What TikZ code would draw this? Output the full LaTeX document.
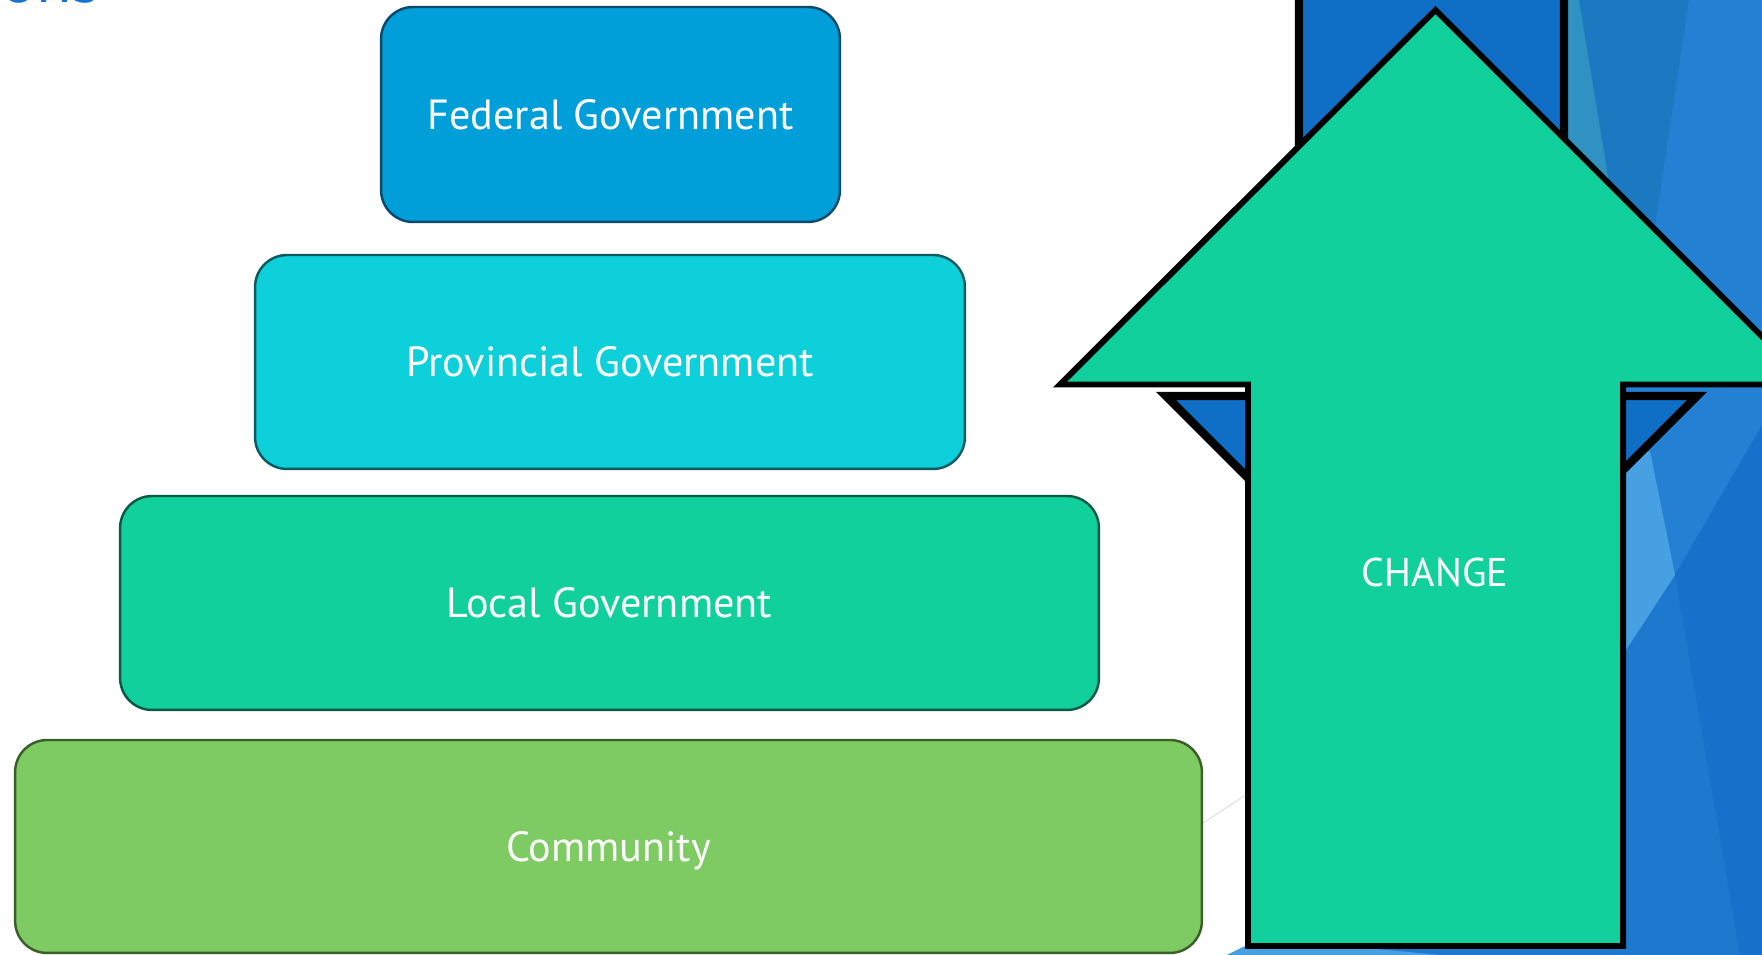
\documentclass[tikz,border=0pt]{standalone}
\usepackage{tikz}
\usepackage{xcolor}
\usepackage{fontspec}
\setmainfont{PT Sans}

\definecolor{federal}{HTML}{009FD9}
\definecolor{federalline}{HTML}{0B4A6A}
\definecolor{provincial}{HTML}{0DD0DB}
\definecolor{provincialline}{HTML}{0D5A60}
\definecolor{localgov}{HTML}{12D09B}
\definecolor{localgovline}{HTML}{0B5A45}
\definecolor{community}{HTML}{7ECB63}
\definecolor{communityline}{HTML}{3B5E2A}
\definecolor{changegreen}{HTML}{11D09B}
\definecolor{downblue}{HTML}{0F6FC6}
\definecolor{titleblue}{HTML}{1A72D0}
\definecolor{facetmid}{HTML}{2380D2}
\definecolor{facetteal}{HTML}{3091C3}
\definecolor{facetdark}{HTML}{1B79C2}
\definecolor{facetlight}{HTML}{46A0E2}
\definecolor{facetdeep}{HTML}{1571C9}
\definecolor{facetlow}{HTML}{1D79CD}

\begin{document}
\begin{tikzpicture}[x=0.02cm, y=-0.02cm,
    govbox/.style={draw=#1line, fill=#1, line width=1.4pt, rounded corners=0.64cm,
        inner sep=0pt, text=white, text height=16.8pt, text depth=0pt,
        font=\fontsize{24}{29}\selectfont},
    bigarrow/.style={draw=black, line join=miter, miter limit=10}] % coordenadas en pixeles
\clip (0,0) rectangle (1762,955);
% fondo con facetas
\fill[facetmid] (1568,0) -- (1762,0) -- (1762,955) -- (1227,955) -- (1262,938) -- cycle;
\fill[facetteal] (1568,0) -- (1579,0) -- (1612,200) -- (1497,200) -- cycle;
\fill[facetdark] (1579,0) -- (1689,0) -- (1650,260) -- (1612,200) -- cycle;
\fill[facetlow] (1600,690) -- (1675,575) -- (1740,955) -- (1300,955) -- cycle;
\fill[facetlight] (1600,465) -- (1650,451) -- (1675,575) -- (1600,690) -- cycle;
\fill[facetdeep] (1675,575) -- (1762,425) -- (1762,955) -- (1740,955) -- cycle;
\fill[facetlight] (1227,955) -- (1262,938) -- (1440,955) -- cycle;
\draw[gray!25, line width=0.6pt] (1150,858) -- (1250,792);

\node[anchor=base east, inner sep=0pt, text=titleblue, font=\fontsize{37}{44}\selectfont] (title) at (100,2.7) {ons};

\node[govbox=federal, minimum width=9.18cm, minimum height=4.3cm] (fed) at (610.5,114.5) {Federal Government};
\node[govbox=provincial, minimum width=14.2cm, minimum height=4.28cm] (prov) at (610,362) {Provincial Government};
\node[govbox=localgov, minimum width=19.58cm, minimum height=4.28cm] (loc) at (609.5,603) {Local Government};
\node[govbox=community, minimum width=23.74cm, minimum height=4.26cm] (comm) at (608.5,846.5) {Community};

\draw[bigarrow, fill=downblue, line width=4.8pt] (1299,-20) -- (1564,-20) -- (1564,396) -- (1697,396)
    -- (1431.5,661.5) -- (1166,396) -- (1299,396) -- cycle;
\draw[bigarrow, fill=changegreen, line width=3.4pt] (1435.5,10) -- (1810,384.5) -- (1623,384.5)
    -- (1623,946) -- (1248,946) -- (1248,384.5) -- (1060,384.5) -- cycle;
\node[text=white, text height=16pt, text depth=0pt, font=\fontsize{22.8}{27}\selectfont] (change) at (1435,572) {CHANGE};
\end{tikzpicture}
\end{document}
